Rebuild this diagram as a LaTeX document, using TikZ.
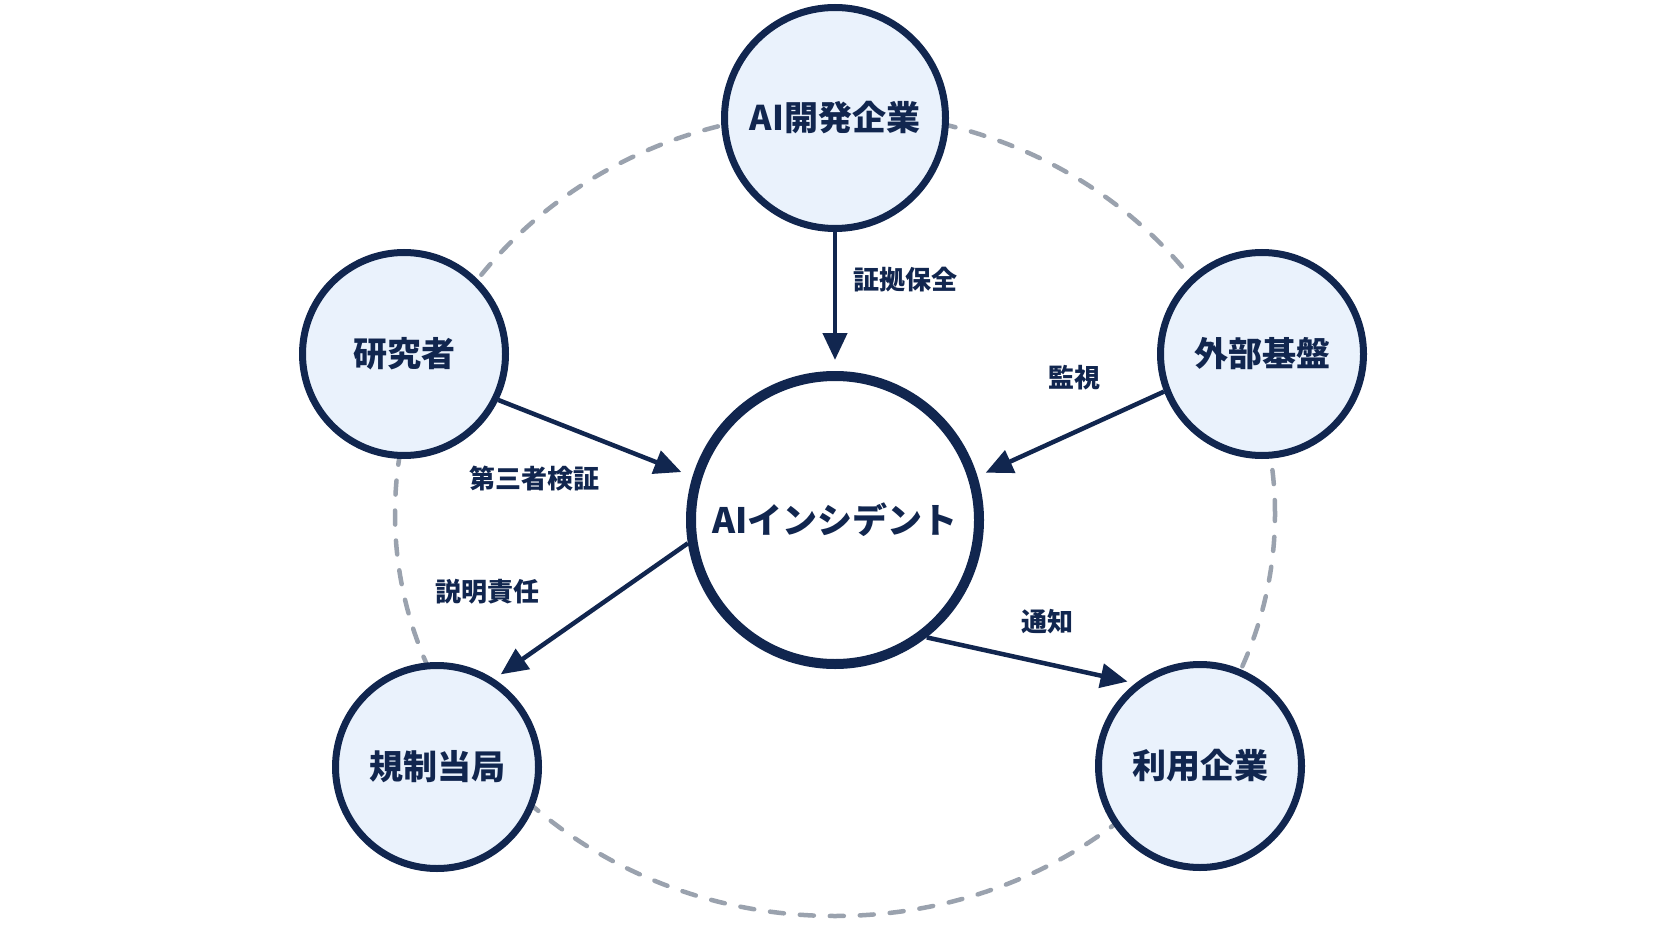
\documentclass[tikz,border=0pt]{standalone}
\usepackage{fontspec}
\setmainfont{Noto Sans CJK JP}
\usetikzlibrary{arrows.meta}
\definecolor{navy}{HTML}{11264F}
\definecolor{nodefill}{HTML}{EAF2FC}
\definecolor{ringgray}{HTML}{9AA2AE}
\tikzset{
  actor/.style={circle, draw=navy, fill=nodefill, line width=7pt, inner sep=0pt,
    minimum size=203pt, text=navy, font=\bfseries\fontsize{34}{34}\selectfont},
  hub/.style={circle, draw=navy, fill=white, line width=10pt, inner sep=0pt,
    minimum size=288pt, text=navy, font=\bfseries\fontsize{35}{35}\selectfont},
  flow/.style={draw=navy, line width=4.5pt, -{Triangle[length=27pt,width=24pt]}},
  lbl/.style={text=navy, inner sep=0pt, font=\bfseries\fontsize{26}{26}\selectfont},
  ringline/.style={draw=ringgray, line width=4.5pt, dash pattern=on 14pt off 16pt, line cap=round}
}
\begin{document}
\begin{tikzpicture}[x=1pt,y=-1pt]
\useasboundingbox[fill=white] (0,0) rectangle (1672,941);
% dashed ring
\draw[ringline] (835,514) ellipse [x radius=440pt, y radius=402pt];
% nodes
\node[hub] (inc) at (835,520) {AIインシデント};
\node[actor, minimum size=221pt] (dev) at (835,118) {AI開発企業};
\node[actor] (res) at (404,354) {研究者};
\node[actor] (ext) at (1262,354) {外部基盤};
\node[actor] (reg) at (437,767) {規制当局};
\node[actor] (usr) at (1200,766) {利用企業};
% connectors
\draw[flow, shorten >=11pt] (dev.-90) -- (inc.90);
\draw[flow, shorten >=12pt] (res.-26) -- (inc.163);
\draw[flow, shorten >=9pt] (ext.201) -- (inc.17);
\draw[flow, shorten >=8pt] (inc.189) -- (reg.57);
\draw[flow, shorten >=8pt] (inc.-52) -- (usr.128);
% labels
\node[lbl] (l1) at (905,280) {証拠保全};
\node[lbl] (l2) at (534,479) {第三者検証};
\node[lbl] (l3) at (1074,378) {監視};
\node[lbl] (l4) at (487,592) {説明責任};
\node[lbl] (l5) at (1047,622) {通知};
\end{tikzpicture}
\end{document}
